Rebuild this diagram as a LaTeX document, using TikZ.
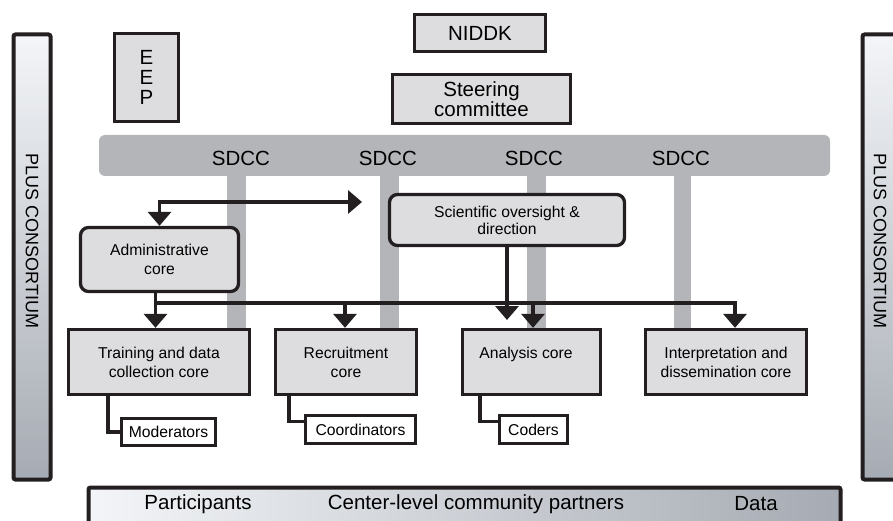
\documentclass[tikz,border=0pt]{standalone}
\usepackage{fontspec}
\setmainfont{Liberation Sans}
\usetikzlibrary{arrows.meta,calc}
\definecolor{boxfill}{RGB}{221,221,223}
\definecolor{bargray}{RGB}{180,181,184}
\definecolor{edge}{RGB}{35,31,32}
\definecolor{gradlight}{RGB}{243,245,248}
\definecolor{graddark}{RGB}{166,171,179}
\newcommand{\smallfnt}{\fontsize{15.7}{19}\selectfont}
\newcommand{\scifnt}{\fontsize{15.7}{17}\selectfont}
\newcommand{\bigfnt}{\fontsize{20.5}{20}\selectfont}
\newcommand{\sidefnt}{\fontsize{18}{20}\selectfont}
\begin{document}
\begin{tikzpicture}[x=1pt,y=-1pt,
  box/.style={draw=edge, fill=boxfill, line width=3.3pt, inner sep=0pt, align=center, font=\smallfnt},
  rbox/.style={box, rounded corners=8pt},
  bigbox/.style={box, font=\bigfnt},
  wbox/.style={draw=edge, fill=white, line width=3pt, inner sep=0pt, font=\smallfnt},
  gradbox/.style={draw=edge, line width=4pt, rounded corners=2pt, inner sep=0pt},
  lbl/.style={inner sep=0pt, font=\bigfnt},
  sidelbl/.style={inner sep=0pt, font=\sidefnt, rotate=-90},
  conn/.style={draw=edge, line width=3.3pt},
  tri/.style={-{Triangle[width=23pt,length=14pt]}},
  bitri/.style={{Triangle[width=23pt,length=14pt]}-{Triangle[width=23pt,length=14pt]}}
]
\useasboundingbox (0,0) rectangle (893,521);
\begin{scope}
\clip (0,0) rectangle (893,521);

% side bars
\node[gradbox, top color=gradlight, bottom color=graddark, minimum width=37pt, minimum height=445pt] (lbar) at (32,257) {};
\node[sidelbl] (ltext) at (32,241) {PLUS CONSORTIUM};
\node[gradbox, top color=gradlight, bottom color=graddark, minimum width=37pt, minimum height=445pt] (rbar) at (881,257) {};
\node[sidelbl] (rtext) at (880,241) {PLUS CONSORTIUM};

% bottom bar
\node[gradbox, left color=gradlight, right color=graddark, minimum width=752pt, minimum height=56pt] (bbar) at (464.5,515.5) {};
\node[lbl] (part) at (198,504) {Participants};
\node[lbl] (cent) at (476,504) {Center-level community partners};
\node[lbl] (data) at (756,504) {Data};

% top boxes
\node[bigbox, minimum width=131pt, minimum height=37pt] (niddk) at (480,33) {NIDDK};
\node[bigbox, minimum width=178pt, minimum height=49pt] (steer) at (481.5,99) {Steering\\committee};
\node[bigbox, minimum width=64pt, minimum height=88pt] (eep) at (146.5,77.5) {E\\E\\P};

% SDCC bar and columns
\fill[bargray] (227,170) rectangle (246,330);
\fill[bargray] (380,170) rectangle (399,330);
\fill[bargray] (527,170) rectangle (546,330);
\fill[bargray] (674,170) rectangle (691,330);
\node[fill=bargray, rounded corners=6pt, inner sep=0pt, minimum width=731pt, minimum height=41pt] (sdcc) at (464.5,155.5) {};
\node[lbl] (s1) at (241,158) {SDCC};
\node[lbl] (s2) at (388,158) {SDCC};
\node[lbl] (s3) at (534,158) {SDCC};
\node[lbl] (s4) at (681,158) {SDCC};

% middle boxes
\node[rbox, font=\scifnt, minimum width=235pt, minimum height=51pt] (sci) at (507,220) {Scientific oversight \&\\direction};
\node[rbox, minimum width=158pt, minimum height=64pt] (admin) at (159.5,259.5) {Administrative\\core};

% core boxes
\node[box, minimum width=181pt, minimum height=65pt] (train) at (159,362) {Training and data\\collection core};
\node[box, minimum width=141pt, minimum height=65pt] (rec) at (346,362) {Recruitment\\core};
\node[box, minimum width=138pt, minimum height=65pt] (ana) at (531.5,362) {};
\node[inner sep=0pt, font=\smallfnt] (anatext) at (526,354) {Analysis core};
\node[box, minimum width=161pt, minimum height=65pt] (interp) at (726,362) {Interpretation and\\dissemination core};

% small boxes
\node[wbox, minimum width=94pt, minimum height=27pt] (mod) at (168.5,432) {Moderators};
\node[wbox, minimum width=110pt, minimum height=28pt] (coord) at (360.5,429.5) {Coordinators};
\node[wbox, minimum width=68pt, minimum height=28pt] (coders) at (533.5,429.5) {Coders};

% connectors
\coordinate (topR) at (362,202);
\draw[conn, bitri] (admin.north) |- (topR);

\coordinate (c1) at (155.5,303);
\coordinate (c2) at (345,303);
\coordinate (c3) at (533,303);
\coordinate (c4) at (735,303);
\draw[conn, tri] (admin.south -| c1) -- (train.north -| c1);
\draw[conn, tri] (c1) -- (c4) -- (interp.north -| c4);
\draw[conn, tri] (c2) -- (rec.north -| c2);
\draw[conn, tri] (c3) -- (ana.north -| c3);

\coordinate (sciend) at (507,320);
\draw[conn, line width=4.5pt, tri] (sci.south) -- (sciend);

\coordinate (m1) at (108,433);
\draw[conn] (train.south -| m1) |- (mod.west);
\coordinate (k1) at (289,421.5);
\draw[conn] (rec.south -| k1) |- (coord.west |- k1);
\coordinate (d1) at (480,421.5);
\draw[conn] (ana.south -| d1) |- (coders.west |- d1);
\end{scope}
\end{tikzpicture}
\end{document}
